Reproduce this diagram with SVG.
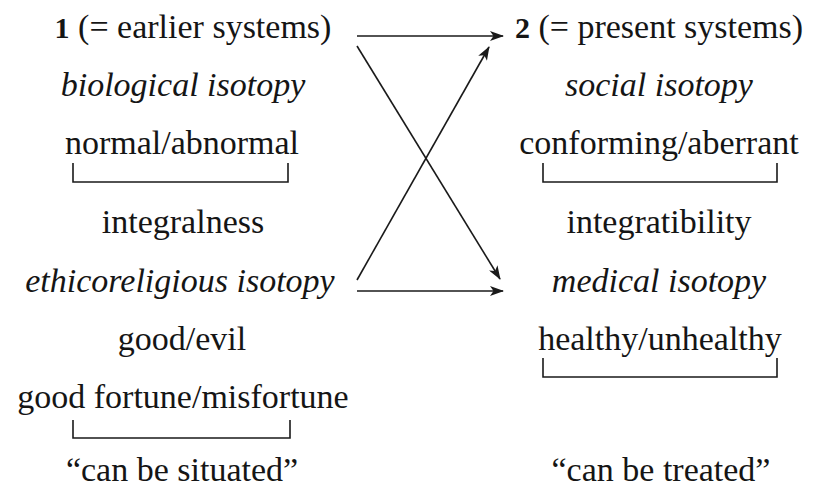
<svg xmlns="http://www.w3.org/2000/svg" width="814" height="490" viewBox="0 0 814 490">
<style>
text{font-family:"Liberation Serif","Times New Roman",serif;font-size:34px;fill:#151515;text-anchor:middle}
.i{font-style:italic}
.b{font-weight:bold;font-size:30px}
.ln{stroke:#1a1a1a;stroke-width:1.6;fill:none}
</style>
<defs>
<marker id="ah" viewBox="0 0 14 10" refX="13" refY="5" markerWidth="14" markerHeight="10" markerUnits="userSpaceOnUse" orient="auto">
<path d="M0,0 L14,5 L0,10 L3.5,5 Z" fill="#1a1a1a"/>
</marker>
</defs>
<rect width="814" height="490" fill="#fff"/>
<g id="left">
<g id="n-earlier"><text x="193" y="38"><tspan class="b">1</tspan> (= earlier systems)</text></g>
<g id="n-bio"><text class="i" x="183" y="96">biological isotopy</text></g>
<g id="n-normal"><text x="182" y="154">normal/abnormal</text><path class="ln" d="M73,163 V182 H288 V163"/></g>
<g id="n-integral"><text x="183" y="233">integralness</text></g>
<g id="n-ethico"><text class="i" x="180" y="292">ethicoreligious isotopy</text></g>
<g id="n-good"><text x="182" y="350">good/evil</text></g>
<g id="n-fortune"><text x="183" y="408">good fortune/misfortune</text><path class="ln" d="M73,420 V438 H290 V420"/></g>
<g id="n-situated"><text x="182" y="481">“can be situated”</text></g>
</g>
<g id="right">
<g id="n-present"><text x="659" y="38"><tspan class="b">2</tspan> (= present systems)</text></g>
<g id="n-social"><text class="i" x="659" y="96">social isotopy</text></g>
<g id="n-conforming"><text x="659" y="154">conforming/aberrant</text><path class="ln" d="M543,163 V182 H777 V163"/></g>
<g id="n-integrat"><text x="659" y="233">integratibility</text></g>
<g id="n-medical"><text class="i" x="659" y="292">medical isotopy</text></g>
<g id="n-healthy"><text x="660" y="350">healthy/unhealthy</text><path class="ln" d="M543,358 V377 H777 V358"/></g>
<g id="n-treated"><text x="661" y="481">“can be treated”</text></g>
</g>
<g id="connectors">
<line class="ln" x1="357" y1="36" x2="503" y2="36" marker-end="url(#ah)"/>
<line class="ln" x1="357" y1="46" x2="500" y2="279" marker-end="url(#ah)"/>
<line class="ln" x1="357" y1="280" x2="489" y2="47" marker-end="url(#ah)"/>
<line class="ln" x1="357" y1="291" x2="503" y2="291" marker-end="url(#ah)"/>
</g>
</svg>
